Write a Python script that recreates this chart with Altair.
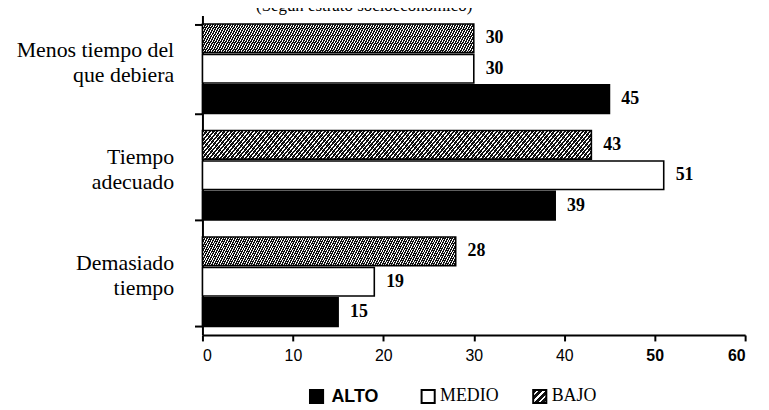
import altair as alt
import pandas as pd

# ---- data ----
categorias = ["Menos tiempo del\nque debiera", "Tiempo\nadecuado", "Demasiado\ntiempo"]
estratos = ["ALTO", "MEDIO", "BAJO"]
alto = [45, 39, 15]
medio = [30, 51, 19]
bajo = [30, 43, 28]
x_ticks = [0, 10, 20, 30, 40, 50, 60]
subtitulo = "(Según estrato socioeconómico)"

rows = []
for i, c in enumerate(categorias):
    for e, vals in zip(estratos, [alto, medio, bajo]):
        rows.append({"categoria": c, "estrato": e, "valor": vals[i]})
df = pd.DataFrame(rows)
leg = pd.DataFrame({"estrato": estratos})
tit = pd.DataFrame({"t": [subtitulo]})

SERIF = "Liberation Serif"
SANS = "Liberation Sans"


def hatch(n, slope, dark=0.62):
    # gradient vector scaled so that the bounding box maps exactly onto [0, 1]
    x2 = (1.0 + slope) / (1.0 + slope * slope)
    y2 = slope * x2
    stops = []
    for k in range(n):
        a = k / n
        b = (k + dark) / n
        c = (k + 1) / n
        stops += [
            {"offset": a, "color": "#111111"},
            {"offset": b, "color": "#111111"},
            {"offset": b, "color": "#ffffff"},
            {"offset": c, "color": "#ffffff"},
        ]
    return {"gradient": "linear", "x1": 0, "y1": 0, "x2": x2, "y2": y2, "stops": stops}


bar_hatch = hatch(115, 0.06, 0.62)
sym_hatch = hatch(4, 1.0, 0.6)

y_enc = alt.Y(
    "categoria:N",
    sort=categorias,
    title=None,
    scale=alt.Scale(paddingInner=0.16, paddingOuter=0.08),
    axis=alt.Axis(
        labelExpr="split(datum.label, '\\n')",
        labelFont=SERIF,
        labelFontSize=22,
        labelLineHeight=25,
        labelColor="black",
        labelAlign="right",
        labelBaseline="middle",
        labelOffset=-19,
        labelPadding=21,
        tickBand="extent",
        tickSize=8,
        tickWidth=2,
        tickColor="black",
        domainColor="black",
        domainWidth=2,
    ),
)
yoff = alt.YOffset("estrato:N", sort=["BAJO", "MEDIO", "ALTO"], scale=alt.Scale(paddingInner=0.06))

x_enc = alt.X(
    "valor:Q",
    title=None,
    scale=alt.Scale(domain=[0, 60], nice=False),
    axis=alt.Axis(
        values=x_ticks,
        labelFont=SANS,
        labelFontSize=16,
        labelColor="black",
        labelPadding=7,
        labelFontWeight=alt.condition("datum.value >= 50", alt.value("bold"), alt.value("normal")),
        tickSize=6,
        tickWidth=2,
        tickColor="black",
        domainColor="black",
        domainWidth=2,
        grid=False,
    ),
)

bars = alt.Chart(df).mark_bar(stroke="black", strokeWidth=1.6).encode(
    y=y_enc,
    yOffset=yoff,
    x=x_enc,
    fill={
        "condition": [
            {"test": "datum.estrato == 'ALTO'", "value": "black"},
            {"test": "datum.estrato == 'BAJO'", "value": bar_hatch},
        ],
        "value": "white",
    },
)

labels = alt.Chart(df).mark_text(
    align="left", baseline="middle", dx=12, font=SERIF, fontSize=18, fontWeight="bold", color="black"
).encode(y=alt.Y("categoria:N", sort=categorias), yOffset=yoff, x="valor:Q", text="valor:Q")

title = alt.Chart(tit).mark_text(
    align="left", baseline="alphabetic", font=SERIF, fontSize=17, color="black"
).encode(x=alt.value(54), y=alt.value(-5), text="t:N")

lx = alt.X("estrato:N", sort=estratos, scale=alt.Scale(type="point", range=[115, 340], padding=0), axis=None)
LY = 384
leg_sym = alt.Chart(leg).mark_point(shape="square", size=175, filled=True, stroke="black", strokeWidth=2, opacity=1).encode(
    x=lx,
    y=alt.value(LY),
    fill={
        "condition": [
            {"test": "datum.estrato == 'ALTO'", "value": "black"},
            {"test": "datum.estrato == 'BAJO'", "value": sym_hatch},
        ],
        "value": "white",
    },
)
leg_txt_sans = alt.Chart(leg).transform_filter("datum.estrato == 'ALTO'").mark_text(
    align="left", baseline="middle", dx=15, dy=1, font=SANS, fontSize=18, fontWeight="bold", color="black"
).encode(x=lx, y=alt.value(LY), text="estrato:N")
leg_txt_serif = alt.Chart(leg).transform_filter("datum.estrato != 'ALTO'").mark_text(
    align="left", baseline="middle", dx=12, font=SERIF, fontSize=18, color="black"
).encode(x=lx, y=alt.value(LY), text="estrato:N")

legend = alt.layer(leg_sym, leg_txt_sans, leg_txt_serif)
main = alt.layer(bars, labels, title)

chart = (
    alt.layer(main, legend)
    .resolve_scale(x="independent")
    .properties(
        width=547,
        height=322,
        autosize=alt.AutoSizeParams(type="none"),
        padding={"left": 196, "top": 6, "right": 16, "bottom": 72},
        background="white",
    )
    .configure_view(stroke=None)
)

chart.save("out.html", embed_options={"renderer": "svg", "actions": False})
